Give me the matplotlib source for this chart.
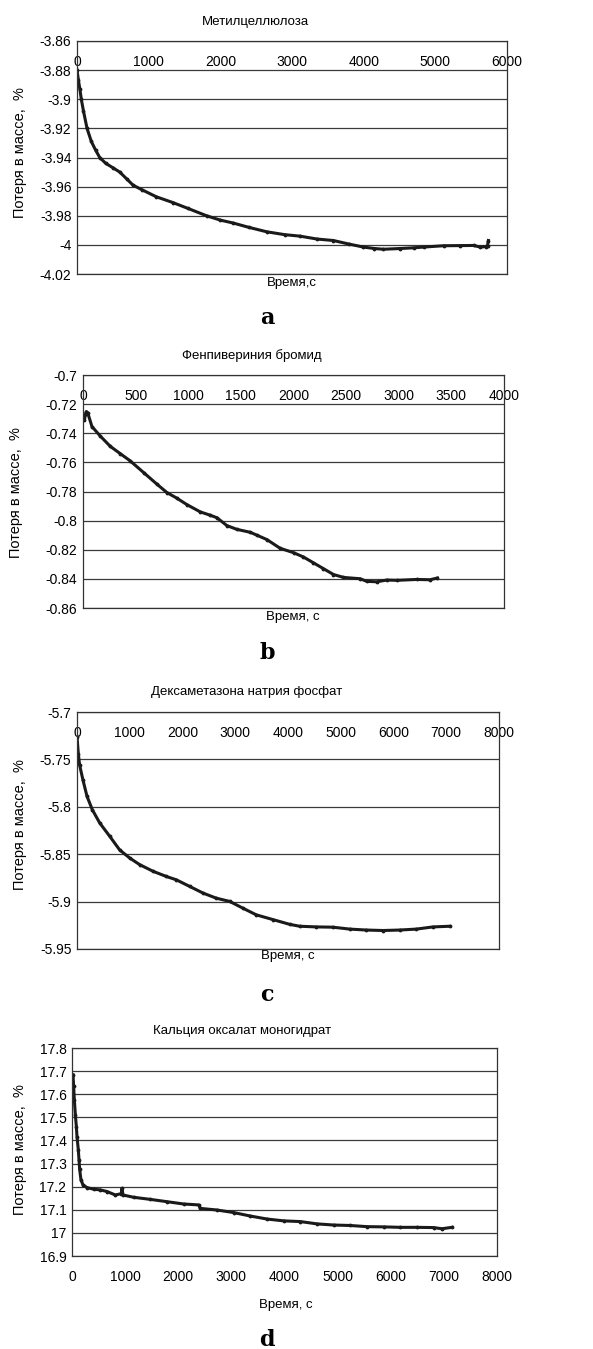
#!/usr/bin/env python3

import matplotlib
matplotlib.use("Agg")
import matplotlib.pyplot as plt

plt.rcParams["font.family"] = ["Liberation Sans", "DejaVu Sans"]

# -----------------------------------------------------------------------------
# data
# -----------------------------------------------------------------------------

# a - Метилцеллюлоза
t_a = [0, 20, 40, 60, 90, 140, 200, 260, 317, 400, 500, 596, 700, 782, 900,
       1108, 1341, 1550, 1807, 2000, 2180, 2400, 2646, 2900, 3111, 3350, 3577,
       3800, 3996, 4150, 4276, 4509, 4700, 4835, 5114, 5350, 5533, 5626, 5700,
       5728, 5740]
m_a = [-3.880, -3.887, -3.893, -3.900, -3.908, -3.920, -3.929, -3.935, -3.940,
       -3.944, -3.947, -3.950, -3.955, -3.959, -3.962, -3.967, -3.971, -3.975,
       -3.980, -3.983, -3.985, -3.988, -3.991, -3.993, -3.994, -3.996, -3.997,
       -3.9995, -4.0015, -4.0025, -4.003, -4.0025, -4.002, -4.0015, -4.0006,
       -4.0005, -4.0004, -4.0015, -4.0012, -4.0006, -3.997]

# b - Фенпивериния бромид
t_b = [13, 25, 32, 45, 85, 165, 259, 354, 449, 576, 703, 797, 892, 987, 1114,
       1209, 1272, 1367, 1462, 1589, 1652, 1747, 1873, 2000, 2095, 2190, 2285,
       2380, 2475, 2633, 2696, 2791, 2886, 2981, 3171, 3297, 3367]
m_b = [-0.7309, -0.7265, -0.7251, -0.7260, -0.7354, -0.742, -0.749, -0.754,
       -0.759, -0.767, -0.775, -0.7807, -0.7846, -0.789, -0.794, -0.7963,
       -0.798, -0.8034, -0.806, -0.808, -0.810, -0.813, -0.819, -0.822, -0.825,
       -0.829, -0.833, -0.837, -0.839, -0.8399, -0.8417, -0.842, -0.8408,
       -0.841, -0.8404, -0.8406, -0.8394]

# c - Дексаметазона натрия фосфат
t_c = [0, 25, 50, 114, 190, 290, 430, 619, 809, 998, 1188, 1441, 1694, 1883,
       2136, 2389, 2641, 2894, 3147, 3400, 3716, 4032, 4221, 4537, 4853, 5169,
       5485, 5801, 6117, 6433, 6749, 7065]
m_c = [-5.726, -5.744, -5.756, -5.772, -5.789, -5.803, -5.817, -5.831, -5.8455,
       -5.854, -5.861, -5.868, -5.8735, -5.877, -5.884, -5.891, -5.8964,
       -5.8998, -5.907, -5.914, -5.919, -5.924, -5.926, -5.9267, -5.927,
       -5.929, -5.930, -5.9305, -5.930, -5.929, -5.9267, -5.926]

# d - Кальция оксалат моногидрат
t_d = [19, 31, 44, 63, 82, 94, 119, 132, 144, 169, 207, 282, 408, 533, 659, 816,
       930, 941, 960, 1161, 1474, 1788, 2102, 2384, 2415, 2729, 3042, 3356,
       3670, 3984, 4298, 4611, 4925, 5238, 5552, 5866, 6179, 6493, 6807, 6964,
       7152]
m_d = [17.684, 17.634, 17.576, 17.511, 17.460, 17.417, 17.359, 17.316, 17.275,
       17.229, 17.208, 17.196, 17.189, 17.186, 17.179, 17.164, 17.170, 17.193,
       17.164, 17.154, 17.145, 17.135, 17.125, 17.121, 17.106, 17.099, 17.088,
       17.073, 17.060, 17.052, 17.049, 17.039, 17.034, 17.032, 17.027, 17.026,
       17.024, 17.024, 17.023, 17.018, 17.024]

titles = ["Метилцеллюлоза", "Фенпивериния бромид",
          "Дексаметазона натрия фосфат", "Кальция оксалат моногидрат"]
xlabels = ["Время,с", "Время, с", "Время, с", "Время, с"]
letters = ["a", "b", "c", "d"]
ylabel = "Потеря в массе,  %"

yticks_a = [-4.02, -4.0, -3.98, -3.96, -3.94, -3.92, -3.90, -3.88, -3.86]
yticks_b = [-0.86, -0.84, -0.82, -0.80, -0.78, -0.76, -0.74, -0.72, -0.70]
yticks_c = [-5.95, -5.90, -5.85, -5.80, -5.75, -5.70]
yticks_d = [16.9, 17.0, 17.1, 17.2, 17.3, 17.4, 17.5, 17.6, 17.7, 17.8]
xticks_a = [0, 1000, 2000, 3000, 4000, 5000, 6000]
xticks_b = [0, 500, 1000, 1500, 2000, 2500, 3000, 3500, 4000]
xticks_c = [0, 1000, 2000, 3000, 4000, 5000, 6000, 7000, 8000]
xticks_d = [0, 1000, 2000, 3000, 4000, 5000, 6000, 7000, 8000]

# -----------------------------------------------------------------------------
# layout in pixels: axes box (left, top, right, bottom), title, ylabel,
# xlabel, letter positions
# -----------------------------------------------------------------------------
W, H = 593, 1349
boxes = [(77, 41, 507, 274), (83, 375, 504, 608),
         (77, 712, 499, 949), (72, 1048, 497, 1256)]
title_pos = [(255, 22), (252, 356), (247, 692), (242, 1031)]
ylab_pos = [(20, 153), (16, 493), (20, 825), (20, 1150)]
xlab_pos = [(292, 283), (293, 617), (288, 956), (286, 1305)]
letter_pos = [(267, 318), (267, 653), (267, 995), (267, 1340)]

series = [(t_a, m_a, xticks_a, yticks_a), (t_b, m_b, xticks_b, yticks_b),
          (t_c, m_c, xticks_c, yticks_c), (t_d, m_d, xticks_d, yticks_d)]

fig = plt.figure(figsize=(W / 100, H / 100), dpi=100)
fs = 10


def fx(px):
    return px / W


def fy(py):
    return 1 - py / H


for i, (t, m, xt, yt) in enumerate(series):
    l, tp, r, b = boxes[i]
    ax = fig.add_axes([fx(l), fy(b), (r - l) / W, (b - tp) / H])
    ax.plot(t, m, color="#1a1a1a", lw=2.2, marker=".", ms=3.5)
    ax.set_xlim(xt[0], xt[-1])
    ax.set_ylim(yt[0], yt[-1])
    ax.set_yticks(yt)
    ax.set_yticklabels(["{:g}".format(round(v, 3)) for v in yt], fontsize=fs)
    ax.set_xticks(xt)
    ax.set_xticklabels([str(v) for v in xt], fontsize=fs)
    ax.yaxis.grid(True, color="#3a3a3a", lw=0.9)
    ax.set_axisbelow(True)
    ax.tick_params(axis="both", length=0)
    ax.tick_params(axis="y", pad=4)
    if i < 3:
        # axis crosses at the top, labels sit just under it
        ax.xaxis.tick_top()
        ax.tick_params(axis="x", pad=-20)
    else:
        ax.tick_params(axis="x", pad=10)
    for s in ax.spines.values():
        s.set_color("#333333")
        s.set_linewidth(0.9)

    fig.text(fx(title_pos[i][0]), fy(title_pos[i][1]), titles[i],
             ha="center", va="center", fontsize=9.5)
    fig.text(fx(ylab_pos[i][0]), fy(ylab_pos[i][1]), ylabel, rotation=90,
             ha="center", va="center", fontsize=10.5)
    fig.text(fx(xlab_pos[i][0]), fy(xlab_pos[i][1]), xlabels[i],
             ha="center", va="center", fontsize=9.5)
    fig.text(fx(letter_pos[i][0]), fy(letter_pos[i][1]), letters[i],
             ha="center", va="center", fontsize=16, fontweight="bold",
             family="DejaVu Serif")

fig.savefig("out.png", dpi=100)
